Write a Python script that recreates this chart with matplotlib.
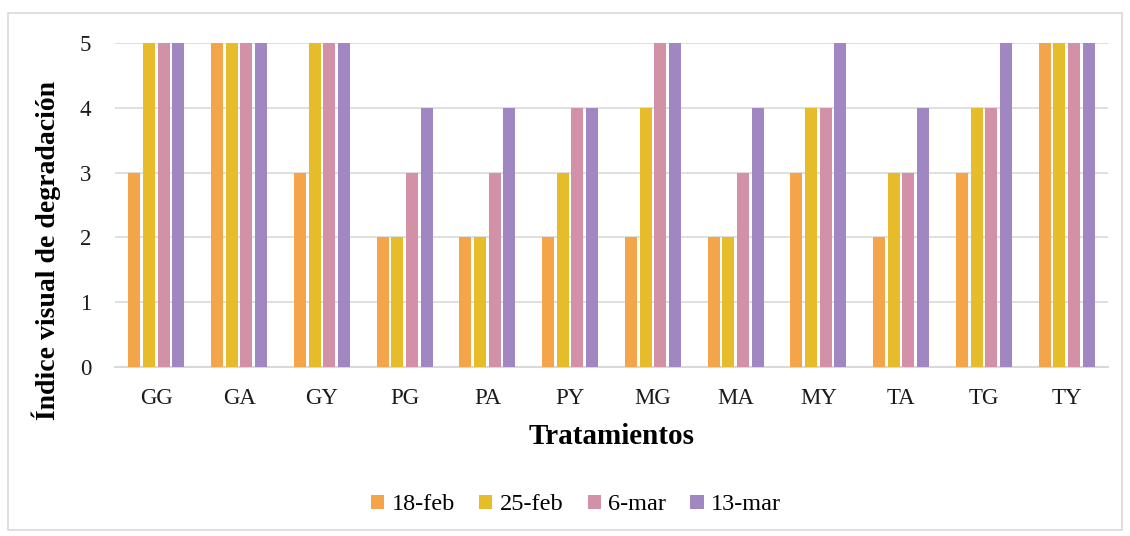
import matplotlib
matplotlib.use("Agg")
import matplotlib.pyplot as plt
import numpy as np
from matplotlib.patches import Rectangle

categories = ["GG", "GA", "GY", "PG", "PA", "PY", "MG", "MA", "MY", "TA", "TG", "TY"]
s_18feb = [3, 5, 3, 2, 2, 2, 2, 2, 3, 2, 3, 5]
s_25feb = [5, 5, 5, 2, 2, 3, 4, 2, 4, 3, 4, 5]
s_6mar = [5, 5, 5, 3, 3, 4, 5, 3, 4, 3, 4, 5]
s_13mar = [5, 5, 5, 4, 4, 4, 5, 4, 5, 4, 5, 5]
series_names = ["18-feb", "25-feb", "6-mar", "13-mar"]
colors = ["#F4A54A", "#E6BC2A", "#D291A6", "#A087C2"]

plt.rcParams['font.family'] = ['Liberation Serif', 'DejaVu Serif']

fig = plt.figure(figsize=(11.3, 5.36), dpi=100)
ax = fig.add_axes([115/1130, 1-367/536, (1108-115)/1130, (367-43)/536])

x = np.arange(len(categories))
slot = 0.178
w = 0.145
for i, (vals, name, c) in enumerate(zip([s_18feb, s_25feb, s_6mar, s_13mar], series_names, colors)):
    ax.bar(x + (i - 1.5) * slot, vals, width=w, color=c, linewidth=0, label=name, zorder=3)

ax.set_xlim(-0.5, len(categories) - 0.5)
ax.set_ylim(0, 5)
ax.set_yticks(range(6))
ax.set_xticks(x)
ax.set_xticklabels(categories)
ax.grid(axis="y", color="#D9D9D9", linewidth=1.2, zorder=0)
for s in ["top", "right", "left"]:
    ax.spines[s].set_visible(False)
ax.spines["bottom"].set_color("#D9D9D9")
ax.spines["bottom"].set_linewidth(1.5)
ax.tick_params(axis="both", length=0, labelsize=16.5, colors="#1a1a1a")
ax.tick_params(axis="x", pad=15)
ax.tick_params(axis="y", pad=17)
ax.set_xlabel("Tratamientos", fontsize=21, fontweight="bold")
ax.set_ylabel("Índice visual de degradación", fontsize=20, fontweight="bold")
ax.xaxis.set_label_coords(0.5, (367-437)/324, transform=ax.transAxes)
ax.yaxis.set_label_coords((46-115)/993, (367-250)/324, transform=ax.transAxes)
ax.xaxis.label.set_va("center")
ax.yaxis.label.set_va("center")

leg = ax.legend(loc="center", bbox_to_anchor=((576-115)/993, (367-505)/324), ncol=4, frameon=False, fontsize=17.5,
                handlelength=0.55, handleheight=0.55, handletextpad=0.3, columnspacing=1.0)

fig.patches.append(Rectangle((8/1130, 6/536), (1122-8)/1130, (523-6)/536, transform=fig.transFigure,
                             fill=False, edgecolor="#D9D9D9", linewidth=1.2))

fig.savefig("out.png", dpi=100)
